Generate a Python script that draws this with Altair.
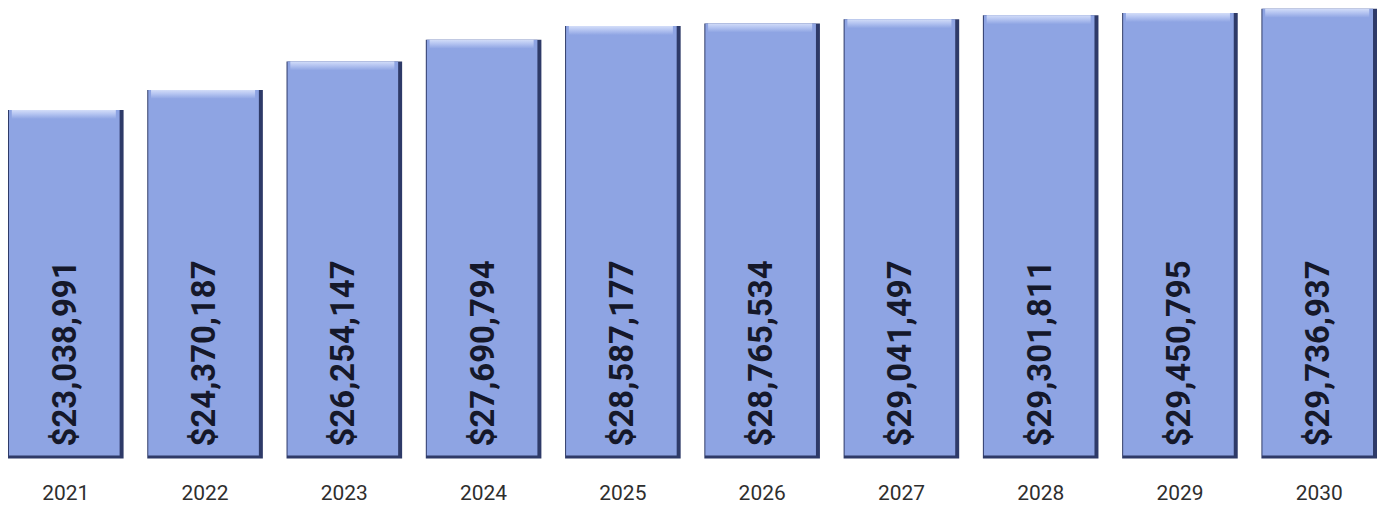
import altair as alt
import pandas as pd

years = ["2021", "2022", "2023", "2024", "2025", "2026", "2027", "2028", "2029", "2030"]
values = [23038991, 24370187, 26254147, 27690794, 28587177, 28765534, 29041497, 29301811, 29450795, 29736937]
labels = ["$23,038,991", "$24,370,187", "$26,254,147", "$27,690,794", "$28,587,177",
          "$28,765,534", "$29,041,497", "$29,301,811", "$29,450,795", "$29,736,937"]

df = pd.DataFrame({"year": years, "value": values, "label": labels})

x = alt.X("year:N", sort=years, title=None,
          scale=alt.Scale(paddingInner=0.17, paddingOuter=0),
          axis=alt.Axis(labelAngle=0, ticks=False, domain=False, labelPadding=24,
                        labelFont="Roboto", labelFontSize=21, labelColor="#2e2e2e"))
y = alt.Y("value:Q", title=None, axis=None,
          scale=alt.Scale(domain=[0, 29736937], nice=False, zero=True))

base = alt.Chart(df)

shadow = base.mark_bar(color="#2e3a68").encode(x=x, y=y, y2=alt.datum(0))
main = base.mark_bar(color="#8ea4e3", width=alt.RelativeBandSize(0.957), xOffset=-1.5,
                     y2Offset=-3).encode(x=x, y=y, y2=alt.datum(0))
highlight = base.mark_bar(
    width=alt.RelativeBandSize(0.90), xOffset=-2, y2Offset=9,
    color=alt.Gradient(gradient="linear", x1=0, y1=0, x2=0, y2=1,
                       stops=[alt.GradientStop(color="#d3ddf8", offset=0),
                              alt.GradientStop(color="#b8c7f2", offset=0.4),
                              alt.GradientStop(color="#8ea4e3", offset=1)])
).encode(x=x, y=y, y2="value:Q")

text = base.mark_text(angle=270, align="left", baseline="middle", dx=12,
                      font="Roboto", fontSize=33, fontWeight="bold",
                      color="#15182a").encode(x=x, y=alt.datum(0), text="label:N")

chart = alt.layer(shadow, main, highlight, text).properties(
    width=1373, height=451, padding=0, background="white"
).configure_view(stroke=None)

chart.save("out.html", embed_options={"renderer": "svg", "actions": False})
